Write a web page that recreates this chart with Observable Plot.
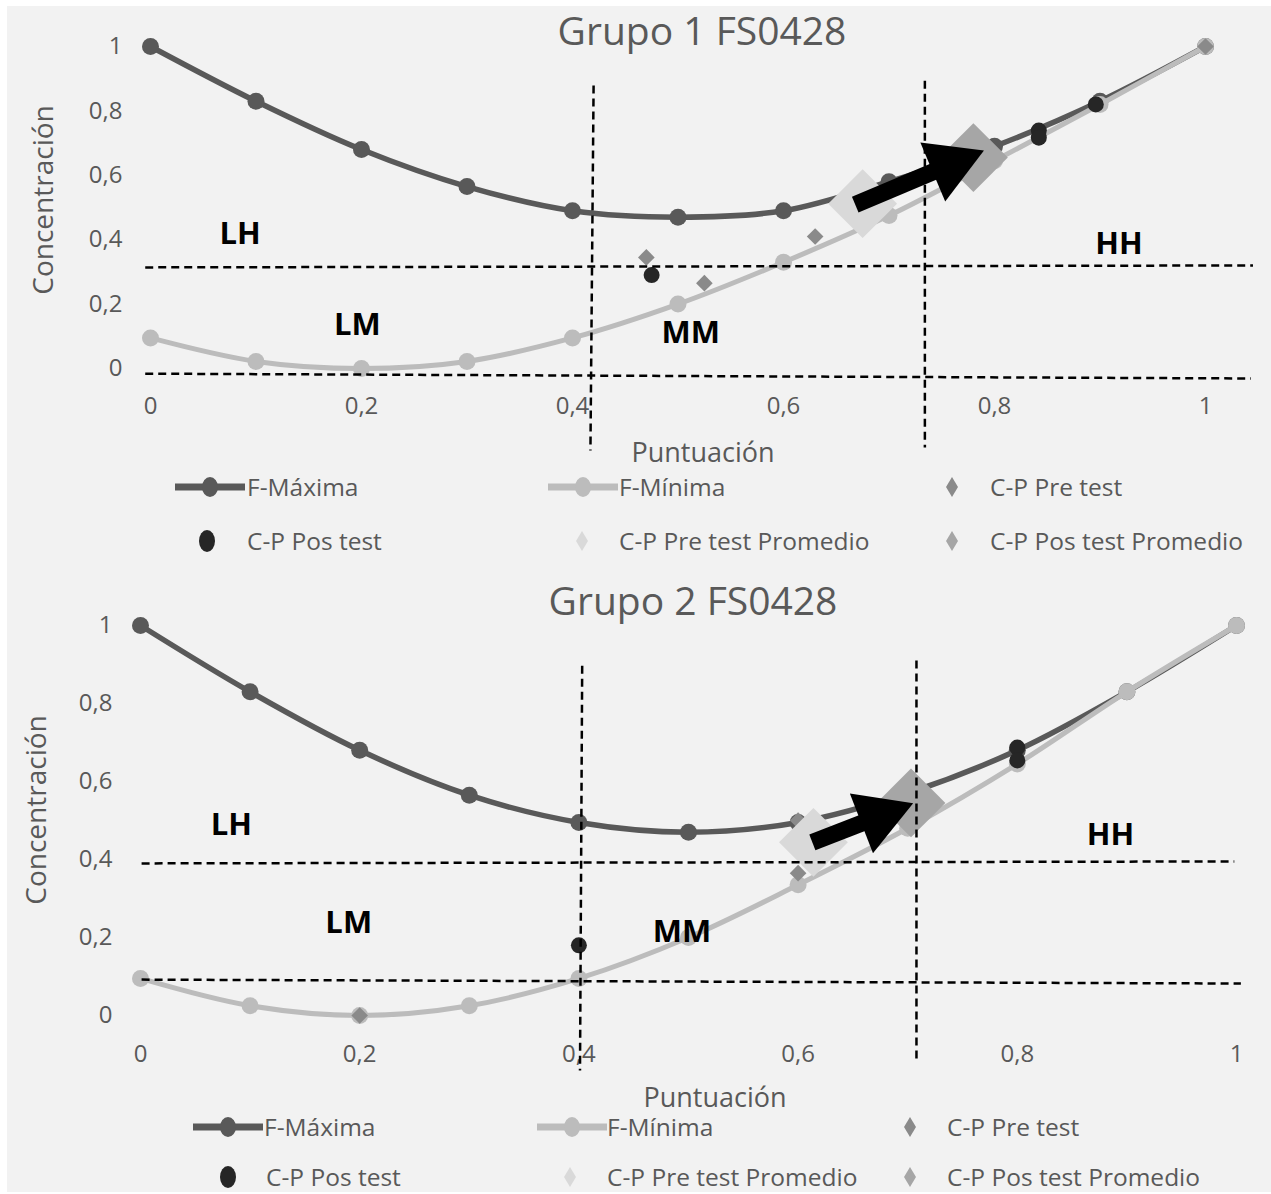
<!DOCTYPE html>
<html><head><meta charset="utf-8">
<script src="https://cdn.jsdelivr.net/npm/d3@7"></script>
<script src="https://cdn.jsdelivr.net/npm/@observablehq/plot@0.6"></script>
<style>
body{margin:0;background:#fff;}
#page{position:relative;width:1271px;height:1194px;overflow:hidden;font-family:"Open Sans",sans-serif;}
#panel{position:absolute;left:7px;top:6px;right:0;bottom:2px;background:#f2f2f2;}
.abs{position:absolute;white-space:nowrap;line-height:1;}
.title{color:#595959;font-size:39px;transform:translate(-50%,-50%);}
.axt{color:#595959;font-size:27px;transform:translate(-50%,-50%);}
.axy{color:#595959;font-size:28px;transform:translate(-50%,-50%) rotate(-90deg);}
.leg{color:#595959;font-size:24.5px;transform:translateY(-50%);}
.sym{position:absolute;overflow:visible;}
</style></head><body><div id="page"><div id="panel"></div></div>
<script>
// ---------- shared ----------
const puntuacion = [0, 0.1, 0.2, 0.3, 0.4, 0.5, 0.6, 0.7, 0.8, 0.9, 1];
const tickValues = [0, 0.2, 0.4, 0.6, 0.8, 1];
const legendLabels = ["F-Máxima", "F-Mínima", "C-P Pre test", "C-P Pos test", "C-P Pre test Promedio", "C-P Pos test Promedio"];
const xTitle = "Puntuación";
const yTitle = "Concentración";
const zoneNames = ["LH", "LM", "MM", "HH"];

// ---------- Grupo 1 ----------
const g1Title = "Grupo 1 FS0428";
const g1FMax = [1, 0.83, 0.68, 0.565, 0.49, 0.47, 0.49, 0.58, 0.69, 0.83, 1];
const g1FMin = [0.095, 0.022, 0, 0.022, 0.095, 0.2, 0.33, 0.475, 0.645, 0.82, 1];
const g1PreX = [0.47, 0.525, 0.63, 1];
const g1PreY = [0.345, 0.265, 0.41, 1];
const g1PosX = [0.475, 0.842, 0.842, 0.896];
const g1PosY = [0.29, 0.739, 0.717, 0.82];
const g1PreProm = [0.675, 0.512];
const g1PosProm = [0.78, 0.655];
const g1Arrow = [0.668, 0.509, 0.79, 0.677];
const g1ZoneX = [0.085, 0.196, 0.512, 0.918];
const g1ZoneY = [0.416, 0.134, 0.109, 0.385];
const g1CutX1 = [0.42, 0.734, -0.005, -0.005];
const g1CutY1 = [0.879, 0.894, 0.314, -0.016];
const g1CutX2 = [0.417, 0.734, 1.045, 1.043];
const g1CutY2 = [-0.255, -0.245, 0.32, -0.031];

// ---------- Grupo 2 ----------
const g2Title = "Grupo 2 FS0428";
const g2FMax = [1, 0.83, 0.68, 0.565, 0.495, 0.47, 0.495, 0.57, 0.68, 0.83, 1];
const g2FMin = [0.095, 0.025, 0, 0.025, 0.095, 0.2, 0.335, 0.48, 0.645, 0.83, 1];
const g2PreX = [0.2, 0.6, 0.6];
const g2PreY = [0, 0.365, 0.5];
const g2PosX = [0.4, 0.8, 0.8];
const g2PosY = [0.18, 0.687, 0.654];
const g2PreProm = [0.614, 0.444];
const g2PosProm = [0.703, 0.545];
const g2Arrow = [0.613, 0.444, 0.705, 0.544];
const g2ZoneX = [0.083, 0.19, 0.494, 0.885];
const g2ZoneY = [0.487, 0.236, 0.213, 0.462];
const g2CutX1 = [0.403, 0.708, 0.001, 0.001];
const g2CutY1 = [0.897, 0.91, 0.39, 0.092];
const g2CutX2 = [0.401, 0.708, 0.998, 1.004];
const g2CutY2 = [-0.141, -0.12, 0.395, 0.082];

// ---------- colours ----------
const cMax = "#595959", cMin = "#bcbcbc", cPre = "#8a8a8a", cPos = "#262626", cPreProm = "#d9d9d9", cPosProm = "#a6a6a6";

const fmt = d => String(d).replace(".", ",");
const page = document.getElementById("page");

function el(cls, text, left, top) {
  const d = document.createElement("div");
  d.className = "abs " + cls;
  d.textContent = text;
  d.style.left = left + "px";
  d.style.top = top + "px";
  page.appendChild(d);
  return d;
}

function chart(cfg) {
  const curve = puntuacion.map((x, i) => ({x, max: cfg.fmax[i], min: cfg.fmin[i]}));
  const pre = cfg.preX.map((x, i) => ({x, y: cfg.preY[i]}));
  const pos = cfg.posX.map((x, i) => ({x, y: cfg.posY[i]}));
  const cuts = cfg.cutX1.map((x1, i) => ({x1, y1: cfg.cutY1[i], x2: cfg.cutX2[i], y2: cfg.cutY2[i]}));
  const zones = zoneNames.map((t, i) => ({t, x: cfg.zoneX[i], y: cfg.zoneY[i]}));
  const opts = (marks) => ({
    width: 1271, height: cfg.height,
    marginLeft: cfg.ml, marginRight: cfg.mr, marginTop: cfg.mt, marginBottom: cfg.mb,
    style: {background: "transparent", fontFamily: "'Open Sans', sans-serif", fontSize: "24px", color: "#595959", overflow: "visible"},
    x: {domain: [0, 1], ticks: tickValues, tickFormat: fmt, tickSize: 0, tickPadding: cfg.xpad, label: null},
    y: {domain: [0, 1], ticks: tickValues, tickFormat: fmt, tickSize: 0, tickPadding: 28, label: null},
    marks
  });
  const base = [
    Plot.line(curve, {x: "x", y: "max", stroke: cMax, strokeWidth: 5.5, curve: "catmull-rom"}),
    Plot.dot(curve, {x: "x", y: "max", fill: cMax, r: 8.5}),
    Plot.line(curve, {x: "x", y: "min", stroke: cMin, strokeWidth: 5, curve: "catmull-rom"}),
    Plot.dot(curve, {x: "x", y: "min", fill: cMin, r: 8.5}),
    Plot.dot(pre, {x: "x", y: "y", fill: cPre, symbol: "diamond2", r: 7.5}),
    Plot.dot(pos, {x: "x", y: "y", fill: cPos, r: 8}),
    Plot.dot([{x: cfg.preProm[0], y: cfg.preProm[1]}], {x: "x", y: "y", fill: cPreProm, symbol: "diamond2", r: 31}),
    Plot.dot([{x: cfg.posProm[0], y: cfg.posProm[1]}], {x: "x", y: "y", fill: cPosProm, symbol: "diamond2", r: 31}),
  ];
  const p0 = Plot.plot(opts(base));
  const X = p0.scale("x"), Y = p0.scale("y");
  const a = cfg.arrow;
  const ax1 = X.apply(a[0]), ay1 = Y.apply(a[1]), ax2 = X.apply(a[2]), ay2 = Y.apply(a[3]);
  const ang = Math.atan2(ay2 - ay1, ax2 - ax1);
  const h = 18.5;
  const cx = ax2 - 2 * h * Math.cos(ang), cy = ay2 - 2 * h * Math.sin(ang);
  const bx = ax2 - (3 * h - 4) * Math.cos(ang), by = ay2 - (3 * h - 4) * Math.sin(ang);
  const triR = Math.sqrt(h * h * 3 * Math.sqrt(3) / Math.PI);
  const marks = base.concat([
    Plot.link([{x1: a[0], y1: a[1], x2: X.invert(bx), y2: Y.invert(by)}], {x1: "x1", y1: "y1", x2: "x2", y2: "y2", stroke: "black", strokeWidth: 17, strokeLinecap: "butt"}),
    Plot.dot([{x: X.invert(cx), y: Y.invert(cy)}], {x: "x", y: "y", symbol: "triangle", r: triR, fill: "black", rotate: ang * 180 / Math.PI + 90}),
    Plot.link(cuts, {x1: "x1", y1: "y1", x2: "x2", y2: "y2", stroke: "black", strokeWidth: 2.5, strokeDasharray: "8,5"}),
    Plot.text(zones, {x: "x", y: "y", text: "t", fill: "black", fontWeight: "bold", fontSize: 31})
  ]);
  const p = Plot.plot(opts(marks));
  p.style.position = "absolute";
  p.style.left = "0px";
  p.style.top = cfg.top + "px";
  page.appendChild(p);
}

chart({top: 0, height: 470, ml: 150, mr: 66, mt: 46, mb: 102, xpad: 28,
  fmax: g1FMax, fmin: g1FMin, preX: g1PreX, preY: g1PreY, posX: g1PosX, posY: g1PosY,
  preProm: g1PreProm, posProm: g1PosProm, arrow: g1Arrow, zoneX: g1ZoneX, zoneY: g1ZoneY,
  cutX1: g1CutX1, cutY1: g1CutY1, cutX2: g1CutX2, cutY2: g1CutY2});
chart({top: 580, height: 520, ml: 140, mr: 35, mt: 45, mb: 85, xpad: 29,
  fmax: g2FMax, fmin: g2FMin, preX: g2PreX, preY: g2PreY, posX: g2PosX, posY: g2PosY,
  preProm: g2PreProm, posProm: g2PosProm, arrow: g2Arrow, zoneX: g2ZoneX, zoneY: g2ZoneY,
  cutX1: g2CutX1, cutY1: g2CutY1, cutX2: g2CutX2, cutY2: g2CutY2});

// titles & axis titles
el("title", g1Title, 702, 29);
el("title", g2Title, 693, 599);
el("axt", xTitle, 703, 451);
el("axt", xTitle, 715, 1096);
el("axy", yTitle, 42, 200);
el("axy", yTitle, 35, 810);

// legends
const NS = "http://www.w3.org/2000/svg";
function sym(kind, color, cx, cy) {
  const s = document.createElementNS(NS, "svg");
  s.setAttribute("class", "sym");
  s.setAttribute("width", 80); s.setAttribute("height", 30);
  s.style.left = (cx - 40) + "px"; s.style.top = (cy - 15) + "px";
  let inner = "";
  if (kind === "line") {
    inner = `<line x1="5" y1="15" x2="75" y2="15" stroke="${color}" stroke-width="7"/><ellipse cx="40" cy="15" rx="8" ry="10" fill="${color}"/>`;
  } else if (kind === "dot") {
    inner = `<ellipse cx="40" cy="15" rx="8" ry="11" fill="${color}"/>`;
  } else {
    inner = `<path d="M40,5 L46,15 L40,25 L34,15 Z" fill="${color}"/>`;
  }
  s.innerHTML = inner;
  page.appendChild(s);
}
function legend(L) {
  const kinds = ["line", "line", "diamond", "dot", "diamond", "diamond"];
  const colors = [cMax, cMin, cPre, cPos, cPreProm, cPosProm];
  legendLabels.forEach((t, i) => {
    sym(kinds[i], colors[i], L.sx[i], L.y[Math.floor(i / 3)]);
    el("leg", t, L.tx[i], L.y[Math.floor(i / 3)]);
  });
}
legend({y: [487, 541], sx: [210, 583, 952, 207, 582, 952], tx: [247, 619, 990, 247, 619, 990]});
legend({y: [1127, 1177], sx: [228, 572, 910, 228, 570, 910], tx: [264, 607, 947, 266, 607, 947]});
</script>
</body></html>
